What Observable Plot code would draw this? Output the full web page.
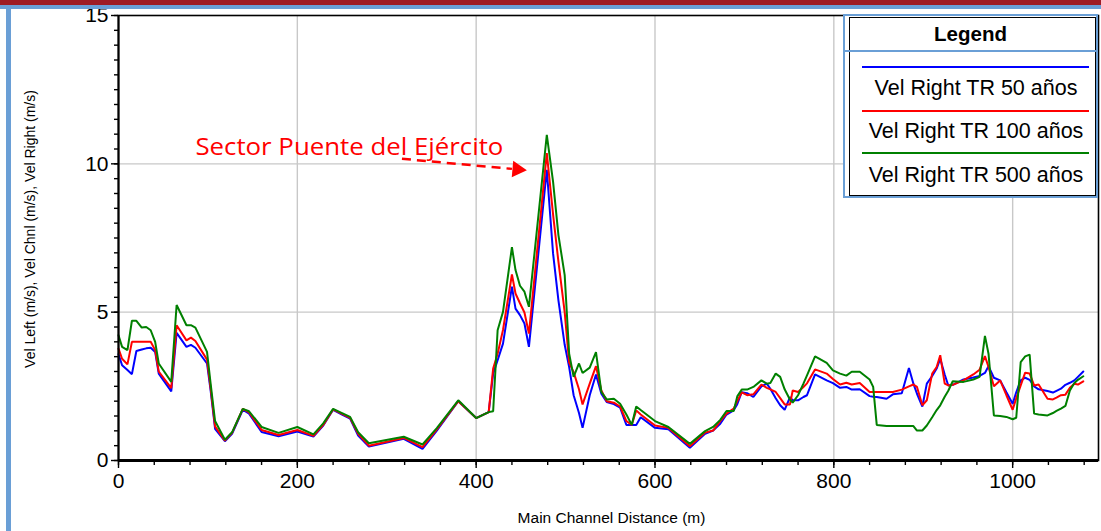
<!DOCTYPE html>
<html>
<head>
<meta charset="utf-8">
<script src="https://cdn.jsdelivr.net/npm/d3@7"></script>
<script src="https://cdn.jsdelivr.net/npm/@observablehq/plot@0.6"></script>
<style>
  html, body { margin: 0; padding: 0; background: #fff; }
  #wrap { position: relative; width: 1101px; height: 531px; overflow: hidden; background: #fff; font-family: "Liberation Sans", Arial, sans-serif; }
  #wrap svg { position: absolute; left: 0; top: 0; }
  .deco { position: absolute; }
  #topred { left: 0; top: 0; width: 1101px; height: 5px; background: #9e1b24; }
  #topblue { left: 0; top: 5px; width: 1101px; height: 4px; background: #6a9fd6; }
  #leftblue { left: 6px; top: 9px; width: 5px; height: 522px; background: #6a9fd6; }
  #legOuter { left: 843px; top: 14px; width: 251px; height: 180px; border: 2px solid #6a9fd6; background: #fff; }
  #legInner { left: 849px; top: 17px; width: 245px; height: 177px; border: 1px solid #000; }
  #legTitle { left: 843px; top: 14px; width: 251px; height: 34px; border: 2px solid #6a9fd6; text-align: center; font-weight: bold; font-size: 20.5px; line-height: 36px; color: #000; }
  .legLine { position: absolute; left: 862px; width: 227px; height: 2px; }
  .legText { position: absolute; left: 846px; width: 260px; text-align: center; font-size: 21.5px; line-height: 24px; color: #000; }
</style>
</head>
<body>
<div id="wrap"></div>
<script>
// ---- data ----
const dist = [0,4,10,15,20,26,31,36,41,45,59,65,76,81,86,99,103,108,119,127,139,146,160,179,200,218,229,240,250,259,268,280,319,340,356,380,400,414,419,424,430,440,444,449,454,459,479,486,492,499,504,509,515,519,527,534,540,546,554,561,568,574,579,584,600,615,639,656,665,673,680,688,692,697,703,710,719,725,729,735,740,745,751,754,760,766,770,779,792,799,807,814,820,829,840,844,848,859,866,876,884,889,893,899,904,910,915,919,924,928,933,945,956,963,969,973,979,986,993,1000,1004,1009,1014,1019,1024,1029,1039,1045,1049,1054,1059,1064,1069,1073,1079];

const tr50 = [3.58,3.21,3.05,2.91,3.69,3.74,3.78,3.80,3.66,2.93,2.33,4.30,3.83,3.90,3.80,3.27,2.36,1.07,0.65,0.90,1.71,1.58,0.96,0.82,0.98,0.81,1.18,1.71,1.55,1.41,0.84,0.47,0.73,0.39,1.01,2.00,1.43,1.63,2.93,3.38,3.94,5.86,5.12,4.90,4.62,3.83,9.80,6.98,5.40,3.90,3.15,2.20,1.60,1.10,2.20,2.90,2.25,1.97,1.90,1.78,1.20,1.20,1.20,1.46,1.10,1.05,0.43,0.90,1.01,1.24,1.55,1.69,1.90,2.30,2.27,2.14,2.50,2.59,2.42,2.10,1.86,1.71,2.14,2.03,2.03,2.14,2.20,2.90,2.70,2.61,2.45,2.48,2.39,2.40,2.17,2.15,2.14,2.08,2.23,2.27,3.12,2.59,2.25,1.82,2.59,2.85,3.10,3.43,2.90,2.53,2.55,2.73,2.80,2.85,2.95,3.18,2.79,2.70,2.30,1.91,2.30,2.70,2.79,2.72,2.50,2.40,2.34,2.29,2.35,2.42,2.55,2.62,2.70,2.82,3.00];

const tr100 = [3.77,3.43,3.24,4.00,4.00,4.00,4.00,4.00,3.72,3.00,2.44,4.56,4.05,4.14,4.03,3.40,2.45,1.15,0.67,0.93,1.74,1.62,1.03,0.86,1.03,0.83,1.20,1.72,1.57,1.44,0.90,0.50,0.76,0.45,1.05,2.00,1.43,1.63,3.10,3.60,4.40,6.27,5.63,5.30,4.99,4.28,10.36,8.30,6.70,5.00,3.30,2.98,2.40,1.89,2.59,3.18,2.36,2.00,1.95,1.82,1.33,1.20,1.69,1.55,1.18,1.10,0.48,0.94,1.01,1.33,1.58,1.75,2.00,2.30,2.20,2.23,2.56,2.45,2.40,2.31,2.10,1.89,1.89,2.36,2.31,2.48,2.60,3.07,2.93,2.75,2.56,2.62,2.56,2.61,2.31,2.31,2.31,2.31,2.31,2.39,2.50,2.56,2.48,1.86,2.03,2.93,3.15,3.55,2.59,2.53,2.55,2.70,2.90,3.06,3.52,3.15,2.50,2.70,2.20,1.71,2.10,2.53,2.96,2.93,2.53,2.56,2.08,2.06,2.12,2.20,2.22,2.45,2.59,2.56,2.67];

const tr500 = [4.22,3.83,3.72,4.71,4.71,4.48,4.50,4.39,4.00,3.27,2.65,5.24,4.56,4.56,4.48,3.66,2.60,1.33,0.70,0.95,1.74,1.66,1.13,0.93,1.13,0.88,1.25,1.74,1.60,1.47,0.95,0.58,0.80,0.54,1.09,2.03,1.43,1.63,1.66,4.39,5.01,7.19,6.42,5.89,5.69,5.18,10.98,9.40,7.60,6.25,3.60,2.82,3.27,2.95,3.13,3.65,2.31,2.06,2.08,1.91,1.55,1.20,1.82,1.70,1.33,1.13,0.56,0.99,1.13,1.37,1.67,1.67,2.16,2.39,2.39,2.48,2.70,2.59,2.61,2.93,2.82,2.40,2.05,1.95,2.20,2.59,2.87,3.51,3.29,3.04,2.93,2.86,2.99,2.99,2.73,2.48,1.20,1.16,1.16,1.16,1.16,1.16,1.01,1.01,1.18,1.46,1.70,1.86,2.15,2.35,2.67,2.65,2.73,2.82,4.20,3.60,1.52,1.50,1.47,1.39,1.44,3.32,3.51,3.57,1.58,1.55,1.52,1.60,1.67,1.75,1.84,2.36,2.61,2.72,2.84];

const seriesNames = ["Vel Right TR 50 años", "Vel Right TR 100 años", "Vel Right TR 500 años"];
const seriesColors = ["#0000ff", "#ff0000", "#008000"];

const xMajorTicks = [0, 200, 400, 600, 800, 1000];
const yMajorTicks = [0, 5, 10, 15];
const xGrid = [200, 400, 600, 800, 1000];
const yGrid = [5, 10];

const xTitle = "Main Channel Distance (m)";
const yTitle = "Vel Left (m/s), Vel Chnl (m/s), Vel Right (m/s)";
const legendTitle = "Legend";

const annotation = [{x: 86, y: 10.31, text: "Sector Puente del Ejército"}];
const annoArrow = [{x1: 317, y1: 10.17, x2: 440, y2: 9.83}];
const annoHead = [{x: 446, y: 9.81}];

// ---- table ----
const seriesValues = [tr50, tr100, tr500];
const table = seriesNames.flatMap((name, s) => dist.map((d, i) => ({series: name, dist: d, v: seriesValues[s][i]})));

const xMinor = d3.range(0, 1097, 40);
const yMinor = d3.range(0, 15.001, 0.5);

const chart = Plot.plot({
  width: 1101,
  height: 531,
  marginLeft: 118,
  marginRight: 3,
  marginTop: 15,
  marginBottom: 71,
  style: {fontFamily: "'Liberation Sans', Arial, sans-serif", background: "transparent", color: "#000"},
  x: {domain: [0, 1096]},
  y: {domain: [0, 15]},
  color: {domain: seriesNames, range: seriesColors},
  marks: [
    Plot.ruleX(xGrid, {stroke: "#c8c8c8", strokeWidth: 1.4}),
    Plot.ruleY(yGrid, {stroke: "#c8c8c8", strokeWidth: 1.4}),
    Plot.line(table, {x: "dist", y: "v", z: "series", stroke: "series", strokeWidth: 2, strokeLinejoin: "miter"}),
    Plot.frame({stroke: "#000", strokeWidth: 1.6}),
    Plot.ruleY([0], {stroke: "#000", strokeWidth: 3}),
    Plot.ruleX([0], {stroke: "#000", strokeWidth: 2}),
    Plot.axisX({ticks: xMajorTicks, tickSize: 8, tickPadding: 5, fontSize: 21, label: null, strokeWidth: 1.4, tickFormat: d => String(d)}),
    Plot.axisX({ticks: xMinor, tickSize: 5, tickFormat: () => "", label: null, strokeWidth: 1.4}),
    Plot.axisY({ticks: yMajorTicks, tickSize: 7, tickPadding: 3, fontSize: 21, label: null, strokeWidth: 1.4, tickFormat: d => String(d)}),
    Plot.axisY({ticks: yMinor, tickSize: 4, tickFormat: () => "", label: null, strokeWidth: 1.4}),
    Plot.text([xTitle], {frameAnchor: "bottom", dy: 62, dx: 3, lineAnchor: "bottom", fontSize: 15.5, fill: "#000"}),
    Plot.text([yTitle], {frameAnchor: "left", textAnchor: "middle", dx: -88, dy: -9, rotate: -90, fontSize: 14, fill: "#000"}),
    Plot.link(annoArrow, {x1: "x1", y1: "y1", x2: "x2", y2: "y2", stroke: "#ff0000", strokeWidth: 2.5, strokeDasharray: "9,6"}),
    Plot.dot(annoHead, {x: "x", y: "y", symbol: "triangle", r: 6.2, fill: "#ff0000", stroke: "none", rotate: 95}),
    Plot.text(annotation, {x: "x", y: "y", text: "text", textAnchor: "start", lineAnchor: "bottom", fill: "#ff0000", fontSize: 24, fontFamily: "'Open Sans', sans-serif"})
  ]
});

const wrap = document.getElementById("wrap");
wrap.appendChild(chart);

// fit annotation text width
chart.querySelectorAll("text").forEach(t => {
  if (t.textContent === annotation[0].text) {
    t.setAttribute("textLength", 308);
    t.setAttribute("lengthAdjust", "spacingAndGlyphs");
  }
});

// decorations / legend
function addDiv(id, cls) { const d = document.createElement("div"); if (id) d.id = id; d.className = cls || "deco"; wrap.appendChild(d); return d; }
addDiv("topred"); addDiv("topblue"); addDiv("leftblue");
addDiv("legOuter"); addDiv("legInner");
const lt = addDiv("legTitle"); lt.textContent = legendTitle;
const lineTops = [66, 110, 152];
const textTops = [76, 119, 163];
seriesNames.forEach((name, i) => {
  const l = document.createElement("div"); l.className = "legLine"; l.style.top = lineTops[i] + "px"; l.style.background = seriesColors[i]; wrap.appendChild(l);
  const t = document.createElement("div"); t.className = "legText"; t.style.top = textTops[i] + "px"; t.textContent = name; wrap.appendChild(t);
});
</script>
</body>
</html>
